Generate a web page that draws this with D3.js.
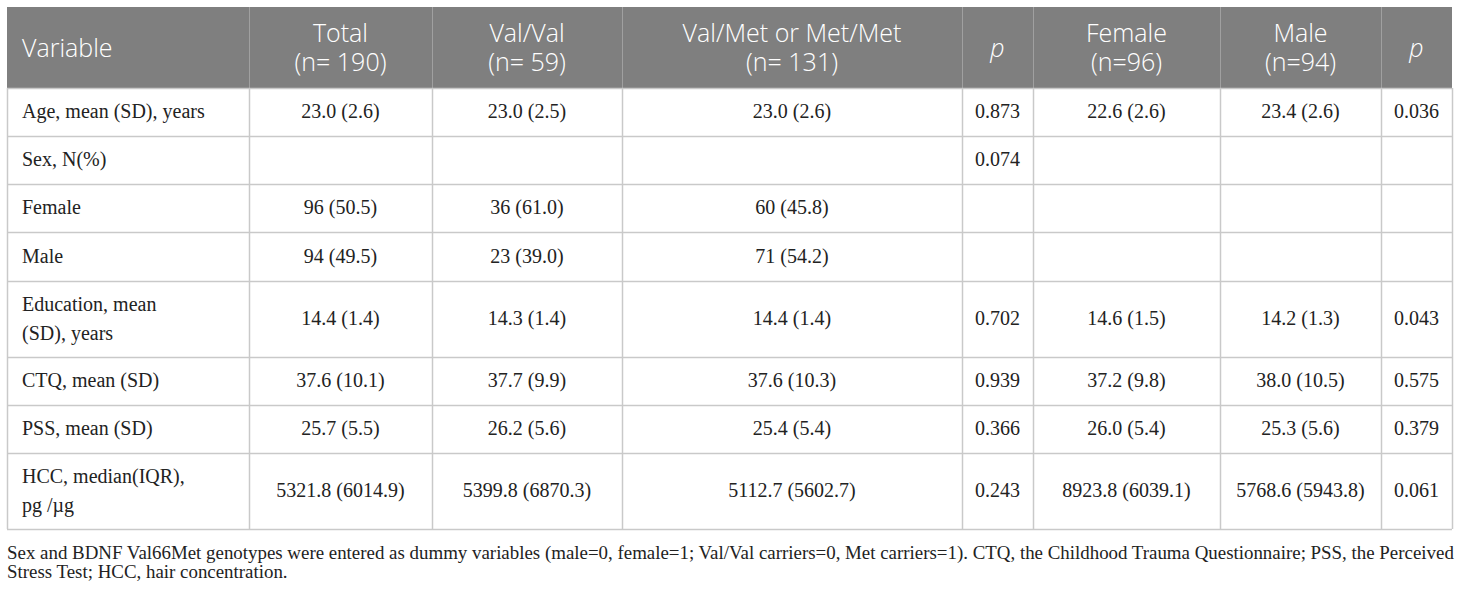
<!DOCTYPE html>
<html><head><meta charset="utf-8">
<script src="https://cdn.jsdelivr.net/npm/d3@7"></script>
<style>
html,body{margin:0;padding:0;background:#fff;}
svg{display:block;}
</style></head>
<body>
<svg id="chart" width="1460" height="589"></svg>
<script>
// ---- data ----
const headers = [
  ["Variable"],
  ["Total", "(n= 190)"],
  ["Val/Val", "(n= 59)"],
  ["Val/Met or Met/Met", "(n= 131)"],
  ["p"],
  ["Female", "(n=96)"],
  ["Male", "(n=94)"],
  ["p"]
];
const variables = [
  ["Age, mean (SD), years"],
  ["Sex, N(%)"],
  ["Female"],
  ["Male"],
  ["Education, mean", "(SD), years"],
  ["CTQ, mean (SD)"],
  ["PSS, mean (SD)"],
  ["HCC, median(IQR),", "pg /\u00b5g"]
];
const total     = ["23.0 (2.6)", "", "96 (50.5)", "94 (49.5)", "14.4 (1.4)", "37.6 (10.1)", "25.7 (5.5)", "5321.8 (6014.9)"];
const valVal    = ["23.0 (2.5)", "", "36 (61.0)", "23 (39.0)", "14.3 (1.4)", "37.7 (9.9)", "26.2 (5.6)", "5399.8 (6870.3)"];
const valMet    = ["23.0 (2.6)", "", "60 (45.8)", "71 (54.2)", "14.4 (1.4)", "37.6 (10.3)", "25.4 (5.4)", "5112.7 (5602.7)"];
const pGenotype = ["0.873", "0.074", "", "", "0.702", "0.939", "0.366", "0.243"];
const female    = ["22.6 (2.6)", "", "", "", "14.6 (1.5)", "37.2 (9.8)", "26.0 (5.4)", "8923.8 (6039.1)"];
const male      = ["23.4 (2.6)", "", "", "", "14.2 (1.3)", "38.0 (10.5)", "25.3 (5.6)", "5768.6 (5943.8)"];
const pSex      = ["0.036", "", "", "", "0.043", "0.575", "0.379", "0.061"];
const footnote = [
  "Sex and BDNF Val66Met genotypes were entered as dummy variables (male=0, female=1; Val/Val carriers=0, Met carriers=1). CTQ, the Childhood Trauma Questionnaire; PSS, the Perceived",
  "Stress Test; HCC, hair concentration."
];

// ---- layout ----
const colEdges = [7, 249, 432, 622, 962, 1033, 1220, 1381, 1452];
const rowEdges = [88, 136, 184, 232, 281, 357, 405, 453, 529];
const tableTop = 7;

const columns = [variables, total, valVal, valMet, pGenotype, female, male, pSex];

const svg = d3.select("#chart");
const colX = d3.scaleOrdinal().domain(d3.range(colEdges.length)).range(colEdges);
const rowY = d3.scaleOrdinal().domain(d3.range(rowEdges.length)).range(rowEdges);

const gridColor = "#c9c9c9";
const headFill = "#7f7f7f";
const textColor = "#222";

// header background
svg.append("rect")
  .attr("x", colX(0)).attr("y", tableTop)
  .attr("width", colX(8) - colX(0)).attr("height", rowY(0) - tableTop)
  .attr("fill", headFill);

// header separators
svg.append("g").selectAll("line").data(d3.range(1, 8)).join("line")
  .attr("x1", d => colX(d) + 0.5).attr("x2", d => colX(d) + 0.5)
  .attr("y1", tableTop).attr("y2", rowY(0))
  .attr("stroke", "#a0a0a0").attr("stroke-width", 1);

// body grid: horizontal
svg.append("g").selectAll("line").data(d3.range(0, rowEdges.length)).join("line")
  .attr("x1", colX(0)).attr("x2", colX(8))
  .attr("y1", d => rowY(d) + 0.5).attr("y2", d => rowY(d) + 0.5)
  .attr("stroke", gridColor).attr("stroke-width", 1.5);
// body grid: vertical
svg.append("g").selectAll("line").data(d3.range(0, colEdges.length)).join("line")
  .attr("x1", d => colX(d) + 0.5).attr("x2", d => colX(d) + 0.5)
  .attr("y1", rowY(0)).attr("y2", rowY(8))
  .attr("stroke", gridColor).attr("stroke-width", 1.5);

// header text
const hdr = svg.append("g")
  .attr("font-family", "'Open Sans', 'Noto Sans', sans-serif")
  .attr("font-weight", 300)
  .attr("font-size", 25).attr("fill", "#fff");
headers.forEach((lines, i) => {
  const left = i === 0;
  const cx = left ? colX(0) + 15 : (colX(i) + colX(i + 1)) / 2;
  const cy = (tableTop + rowY(0)) / 2;
  const lh = 29;
  const t = hdr.append("text")
    .attr("text-anchor", left ? "start" : "middle")
    .attr("font-style", lines[0] === "p" ? "italic" : "normal");
  lines.forEach((ln, k) => {
    t.append("tspan").attr("x", cx)
      .attr("y", cy + (k - (lines.length - 1) / 2) * lh)
      .attr("dy", "0.36em").text(ln);
  });
});

// body text
const body = svg.append("g")
  .attr("font-family", "'Liberation Serif', 'Times New Roman', serif")
  .attr("font-size", 20).attr("fill", textColor);
columns.forEach((col, i) => {
  const left = i === 0;
  const cx = left ? colX(0) + 15 : (colX(i) + colX(i + 1)) / 2;
  col.forEach((val, r) => {
    const lines = Array.isArray(val) ? val : [val];
    if (lines.length === 1 && lines[0] === "") return;
    const cy = (rowY(r) + rowY(r + 1)) / 2;
    const lh = 29;
    const t = body.append("text").attr("text-anchor", left ? "start" : "middle");
    lines.forEach((ln, k) => {
      t.append("tspan").attr("x", cx)
        .attr("y", cy + (k - (lines.length - 1) / 2) * lh)
        .attr("dy", "0.32em").text(ln);
    });
  });
});

// footnote
svg.append("g")
  .attr("font-family", "'Liberation Serif', 'Times New Roman', serif")
  .attr("font-size", 18.9).attr("fill", textColor)
  .selectAll("text").data(footnote).join("text")
  .attr("x", colX(0)).attr("y", (d, i) => 553 + i * 19)
  .attr("dy", "0.32em").text(d => d);
</script>
</body></html>
